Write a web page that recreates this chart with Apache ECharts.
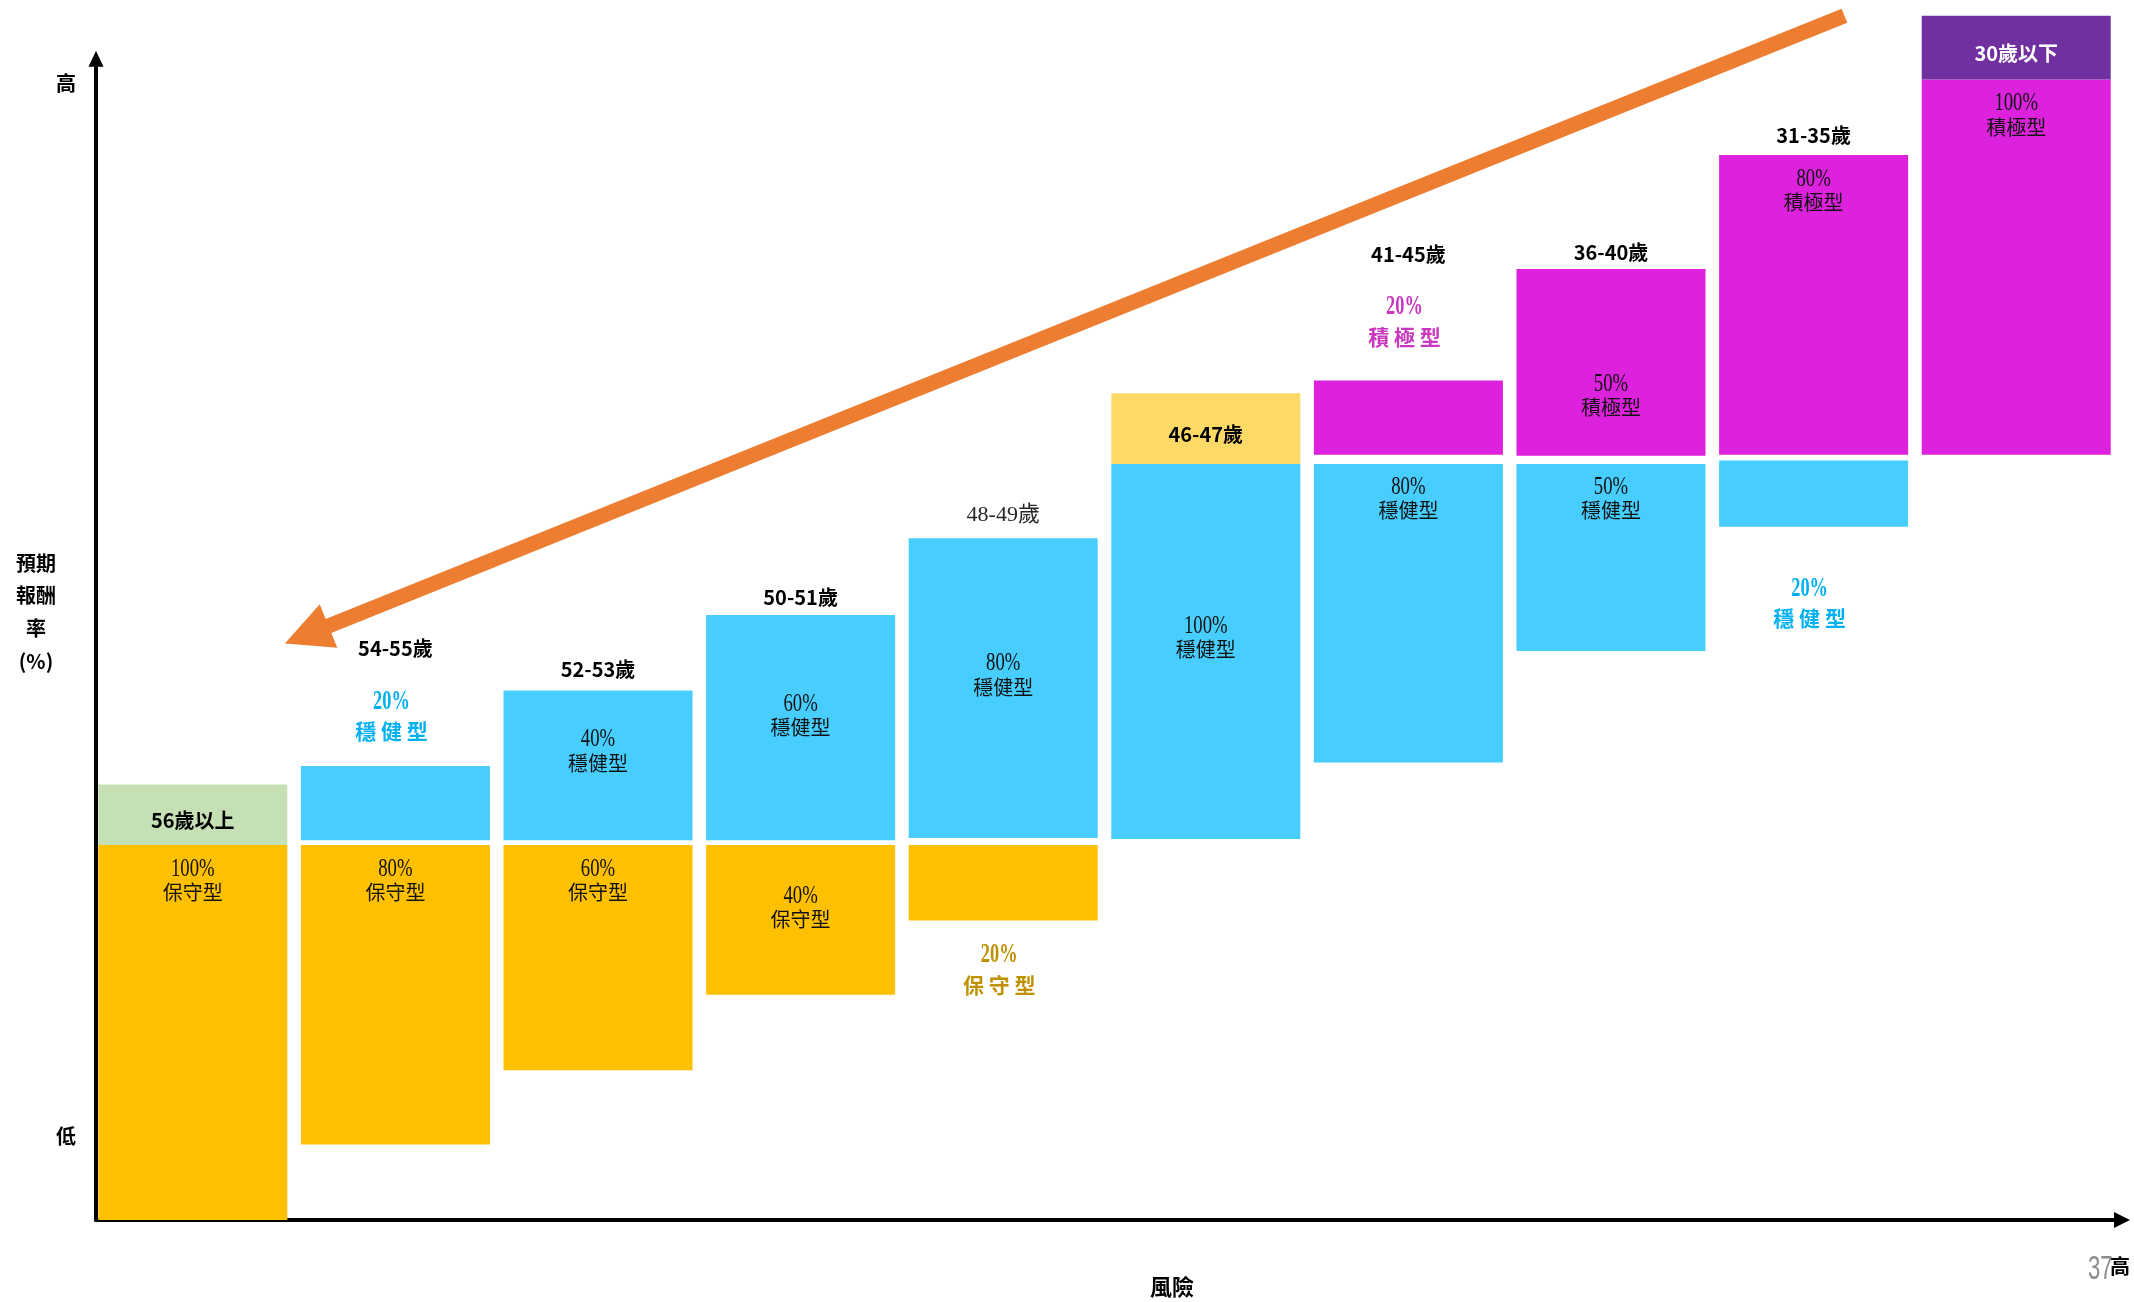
<!DOCTYPE html>
<html>
<head>
<meta charset="utf-8">
<script src="https://cdn.jsdelivr.net/npm/echarts@6/dist/echarts.min.js"></script>
<style>
html,body{margin:0;padding:0;background:#ffffff;}
#chart{width:2134px;height:1302px;}
</style>
</head>
<body>
<div id="chart"></div>
<script>
// ---------------- DATA ----------------
const categories = ['56歲以上','54-55歲','52-53歲','50-51歲','48-49歲','46-47歲','41-45歲','36-40歲','31-35歲','30歲以下'];
const typeNames = ['保守型','穩健型','積極型'];

const conservativePct  = [100, 80, 60, 40, 20, 0, 0, 0, 0, 0];
const conservativeLow  = [0, 6.5, 12.9, 19.4, 25.8, null, null, null, null, null];
const conservativeHigh = [32.3, 32.3, 32.3, 32.3, 32.3, null, null, null, null, null];

const moderatePct  = [0, 20, 40, 60, 80, 100, 80, 50, 20, 0];
const moderateLow  = [null, 32.7, 32.7, 32.7, 32.9, 32.8, 39.4, 49.0, 59.7, null];
const moderateHigh = [null, 39.1, 45.6, 52.1, 58.7, 65.1, 65.1, 65.1, 65.4, null];

const aggressivePct  = [0, 0, 0, 0, 0, 0, 20, 50, 80, 100];
const aggressiveLow  = [null, null, null, null, null, null, 65.9, 65.8, 65.9, 65.9];
const aggressiveHigh = [null, null, null, null, null, null, 72.3, 81.9, 91.7, 98.2];

const headerLow  = [32.3, null, null, null, null, 65.1, null, null, null, 98.2];
const headerHigh = [37.5, null, null, null, null, 71.2, null, null, null, 103.7];

const yEndLabels = ['低', '高'];
const yAxisTitle = '預期\n報酬\n率\n(%)';
const xAxisTitle = '風險';
const xEndLabel = '高';
const pageNumber = '37';

// trend arrow ends, in axis units (x: category position, y: return axis)
const arrowFrom = [8.13, 103.7];
const arrowTo   = [0.54, 50.4];

// ---------------- STYLE ----------------
const C_CONS = '#FFC000', C_MOD = '#47CEFF', C_AGG = '#DD22DD';
const T_CONS = '#BF9000', T_MOD = '#00B0F0', T_AGG = '#C936C0';
const headerColors = ['#C5E0B4', null, null, null, null, '#FFD966', null, null, null, '#7030A0'];
const SERIF = "'Liberation Serif','DejaVu Serif','Noto Sans CJK TC',serif";
const SANS = "'Noto Sans CJK TC','Noto Sans',sans-serif";
const BAR_OFFSET = 2.3, BAR_RATIO = 0.933;

// label placement (px) for each segment
const conservativeSpot = [{inside:24},{inside:24},{inside:24},{inside:51},{below:35},null,null,null,null,null];
const moderateSpot = [null,{above:64},{inside:49},{inside:89},{inside:125},{inside:162},{inside:23},{inside:23},{below:62},null];
const aggressiveSpot = [null,null,null,null,null,null,{above:73},{inside:115},{inside:24},{inside:24}];
const ageGap = [null,118,21,18,23,null,126,16.5,20,null];
const headerTextDy = 6;

function txt(x, y, text, font, fill, scaleX) {
  return {
    type: 'text', x: x, y: y, scaleX: scaleX || 1, silent: true,
    style: { text: text, font: font, fill: fill, textAlign: 'center', textVerticalAlign: 'middle', align: 'center', verticalAlign: 'middle' }
  };
}

function barGeom(api, i, lo, hi) {
  const pTop = api.coord([i, hi]);
  const pBot = api.coord([i, lo]);
  const band = api.size([1, 0])[0];
  const x0 = pTop[0] - band / 2 + BAR_OFFSET;
  const w = band * BAR_RATIO;
  return { x0: x0, w: w, top: pTop[1], bot: pBot[1], cx: x0 + w / 2 };
}

function segmentSeries(name, lows, highs, pcts, color, textColor, spots) {
  const data = [];
  categories.forEach(function (c, i) {
    if (pcts[i] > 0) data.push([i, lows[i], highs[i], pcts[i]]);
  });
  return {
    type: 'custom', name: name, xAxisIndex: 0, yAxisIndex: 0, clip: false, silent: true,
    encode: { x: 0, y: [1, 2] },
    data: data,
    renderItem: function (params, api) {
      const i = api.value(0), lo = api.value(1), hi = api.value(2), pct = api.value(3);
      const g = barGeom(api, i, lo, hi);
      const children = [{ type: 'rect', shape: { x: g.x0, y: g.top, width: g.w, height: g.bot - g.top }, style: { fill: color } }];
      const spot = spots[i];
      if (spot) {
        if (spot.inside != null) {
          const y1 = g.top + spot.inside;
          children.push(txt(g.cx, y1, pct + '%', '26px ' + SERIF, '#111', 0.72));
          children.push(txt(g.cx, y1 + 26, name, '20px ' + SERIF, '#111'));
        } else {
          const y1 = spot.above != null ? g.top - spot.above : g.bot + spot.below;
          children.push(txt(g.cx - 4, y1, pct + '%', 'bold 27px ' + SERIF, textColor, 0.68));
          children.push(txt(g.cx - 4, y1 + 29.5, name.split('').join(' '), 'bold 21px ' + SANS, textColor));
        }
      }
      return { type: 'group', children: children };
    }
  };
}

// header boxes (age label inside)
const headerData = [];
categories.forEach(function (c, i) { if (headerLow[i] != null) headerData.push([i, headerLow[i], headerHigh[i]]); });

// free age labels above the top of each column
const ageData = [];
categories.forEach(function (c, i) {
  if (headerLow[i] != null) return;
  const tops = [conservativeHigh[i], moderateHigh[i], aggressiveHigh[i]].filter(function (v) { return v != null; });
  ageData.push([i, Math.max.apply(null, tops)]);
});

const option = {
  animation: false,
  backgroundColor: '#ffffff',
  grid: { left: 96, right: 12, top: 58.7, bottom: 82, containLabel: false, outerBoundsMode: 'none' },
  xAxis: [
    {
      type: 'category', data: categories, boundaryGap: true,
      axisLine: { show: true, onZero: false, symbol: ['none', 'triangle'], symbolSize: [16, 16], lineStyle: { color: '#000', width: 4 } },
      axisTick: { show: false }, axisLabel: { show: false }, splitLine: { show: false }
    },
    { type: 'value', min: -0.5, max: 9.5, show: false }
  ],
  yAxis: {
    type: 'value', min: 0, max: 100,
    axisLine: { show: true, onZero: false, symbol: ['none', 'triangle'], symbolSize: [15, 16], lineStyle: { color: '#000', width: 4 } },
    axisTick: { show: false }, axisLabel: { show: false }, splitLine: { show: false }
  },
  series: [
    segmentSeries(typeNames[0], conservativeLow, conservativeHigh, conservativePct, C_CONS, T_CONS, conservativeSpot),
    segmentSeries(typeNames[1], moderateLow, moderateHigh, moderatePct, C_MOD, T_MOD, moderateSpot),
    segmentSeries(typeNames[2], aggressiveLow, aggressiveHigh, aggressivePct, C_AGG, T_AGG, aggressiveSpot),
    {
      type: 'custom', name: 'header', xAxisIndex: 0, yAxisIndex: 0, clip: false, silent: true,
      encode: { x: 0, y: [1, 2] }, data: headerData, z: 3,
      renderItem: function (params, api) {
        const i = api.value(0), lo = api.value(1), hi = api.value(2);
        const g = barGeom(api, i, lo, hi);
        return { type: 'group', children: [
          { type: 'rect', shape: { x: g.x0, y: g.top, width: g.w, height: g.bot - g.top }, style: { fill: headerColors[i] } },
          txt(g.cx, (g.top + g.bot) / 2 + headerTextDy, categories[i], 'bold 20px ' + SANS, i === 9 ? '#ffffff' : '#000000')
        ] };
      }
    },
    {
      type: 'custom', name: 'age', xAxisIndex: 0, yAxisIndex: 0, clip: false, silent: true,
      encode: { x: 0, y: 1 }, data: ageData,
      renderItem: function (params, api) {
        const i = api.value(0), top = api.value(1);
        const p = api.coord([i, top]);
        const band = api.size([1, 0])[0];
        const cx = p[0] - band / 2 + BAR_OFFSET + band * BAR_RATIO / 2;
        const serif = (i === 4);
        return txt(cx, p[1] - ageGap[i], categories[i], serif ? ('22px ' + SERIF) : ('bold 20px ' + SANS), serif ? '#262626' : '#000000');
      }
    },
    {
      type: 'lines', coordinateSystem: 'cartesian2d', xAxisIndex: 1, yAxisIndex: 0, clip: false, silent: true, z: 4,
      symbol: ['none', 'triangle'], symbolSize: 47,
      lineStyle: { color: '#ED7D31', width: 15, opacity: 1, curveness: 0 },
      data: [{ coords: [arrowFrom, arrowTo] }]
    }
  ],
  graphic: [
    { type: 'text', x: 66, y: 83, z: 100, silent: true, style: { text: yEndLabels[1], font: 'bold 20px ' + SANS, fill: '#000', textAlign: 'center', textVerticalAlign: 'middle', align: 'center', verticalAlign: 'middle' } },
    { type: 'text', x: 66, y: 1136, z: 100, silent: true, style: { text: yEndLabels[0], font: 'bold 20px ' + SANS, fill: '#000', textAlign: 'center', textVerticalAlign: 'middle', align: 'center', verticalAlign: 'middle' } },
    { type: 'text', x: 36, y: 612, z: 100, silent: true, style: { text: yAxisTitle, font: 'bold 20px ' + SANS, lineHeight: 32.7, fill: '#000', textAlign: 'center', textVerticalAlign: 'middle', align: 'center', verticalAlign: 'middle' } },
    { type: 'text', x: 1172, y: 1287, z: 100, silent: true, style: { text: xAxisTitle, font: 'bold 22px ' + SANS, fill: '#000', textAlign: 'center', textVerticalAlign: 'middle', align: 'center', verticalAlign: 'middle' } },
    { type: 'text', x: 2088, y: 1270, z: 100, scaleX: 0.65, silent: true, style: { text: pageNumber, font: '34px ' + "'Liberation Sans','Noto Sans',sans-serif", fill: '#8c8c8c', textAlign: 'left', textVerticalAlign: 'middle', align: 'left', verticalAlign: 'middle' } },
    { type: 'text', x: 2120, y: 1266, z: 101, silent: true, style: { text: xEndLabel, font: 'bold 20px ' + SANS, fill: '#000', textAlign: 'center', textVerticalAlign: 'middle', align: 'center', verticalAlign: 'middle' } }
  ]
};

const chart = echarts.init(document.getElementById('chart'), null, { renderer: 'canvas', width: 2134, height: 1302 });
chart.setOption(option);
</script>
</body>
</html>
